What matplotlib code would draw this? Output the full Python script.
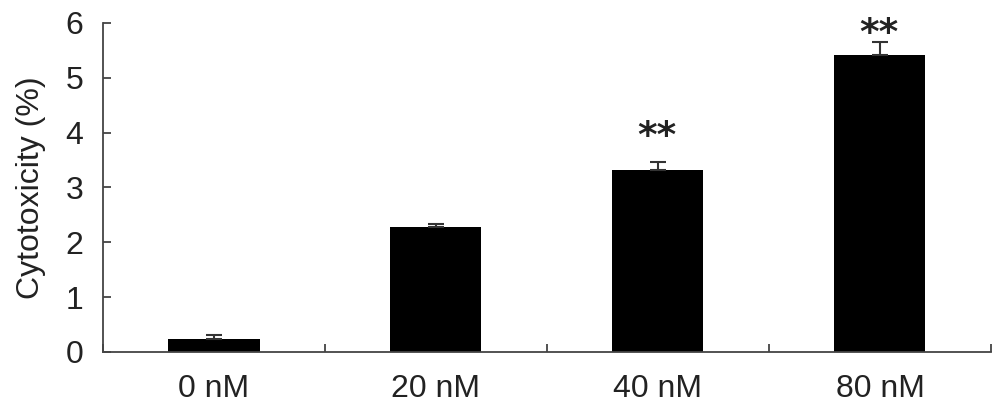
import matplotlib.pyplot as plt
import numpy as np

plt.rcParams['font.family'] = ['Liberation Sans', 'DejaVu Sans']

# data
groups = ['0 nM', '20 nM', '40 nM', '80 nM']
means = [0.23, 2.28, 3.31, 5.42]
errors = [0.07, 0.05, 0.16, 0.23]
marks = ['', '', '**', '**']
mark_y = [0, 0, 4.14, 6.02]

fig = plt.figure(figsize=(10.05, 4.15), dpi=100)
ax = fig.add_axes([0.1025, 0.152, 0.8835, 0.7926])

x = np.arange(len(groups))
ax.bar(x, means, width=0.41, color='black', zorder=2)
ax.errorbar(x, means, yerr=[np.zeros(len(errors)), errors], fmt='none',
            ecolor='#333333', elinewidth=1.5, capsize=5.5, capthick=1.5, zorder=3)

fs_star = 27
for xi, s, sy in zip(x, marks, mark_y):
    if s:
        ax.annotate(s, (xi, sy), xytext=(-1, -0.6 * fs_star),
                    textcoords='offset points', ha='center', va='baseline',
                    fontsize=fs_star, family='DejaVu Sans', weight='bold',
                    color='#222222', annotation_clip=False)

ax.set_xlim(-0.5, len(groups) - 0.5)
ax.set_ylim(0, 6)
ax.set_yticks(range(0, 7))
ax.set_xticks(x)
ax.set_xticklabels(groups)
ax.set_xticks(np.arange(len(groups) + 1) - 0.5, minor=True)

for sp in ['top', 'right']:
    ax.spines[sp].set_visible(False)
for sp in ['left', 'bottom']:
    ax.spines[sp].set_color('#444444')
    ax.spines[sp].set_linewidth(1.3)

ax.tick_params(axis='y', direction='in', length=5.5, width=1.3, color='#444444',
               labelsize=23, pad=14, labelcolor='#222222')
ax.tick_params(axis='x', which='major', length=0, labelsize=23, pad=16,
               labelcolor='#222222')
ax.tick_params(axis='x', which='minor', direction='in', length=5.5, width=1.3,
               color='#444444')

ax.set_ylabel('Cytotoxicity (%)', fontsize=23, color='#222222', labelpad=14)

fig.savefig('out.png', dpi=100)
